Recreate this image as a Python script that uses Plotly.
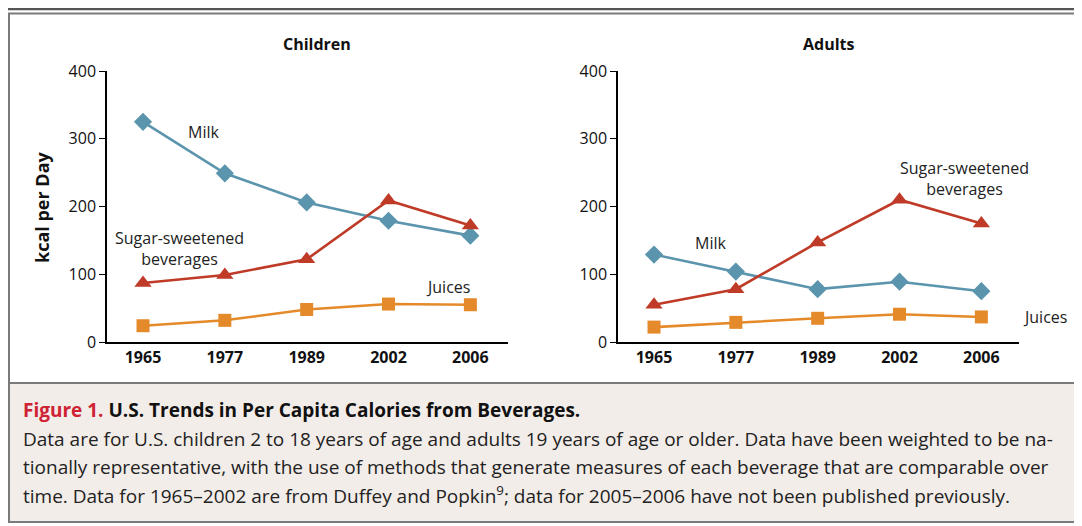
import plotly.graph_objects as go

years = ["1965", "1977", "1989", "2002", "2006"]
children_milk = [325, 249, 206, 179, 157]
children_ssb = [87, 99, 122, 209, 172]
children_juices = [24, 32, 48, 56, 55]
adults_milk = [129, 104, 78, 89, 75]
adults_ssb = [55, 78, 147, 210, 175]
adults_juices = [22, 29, 35, 41, 37]
y_ticks = [0, 100, 200, 300, 400]

W, H = 1082, 526
OFF = 8  # page body margin offset


def px(x):
    return (x - OFF) / W


def py(y):
    return 1 - (y - OFF) / H


MILK = "#5b94ad"
SSB = "#bf3a27"
JUICE = "#e58a2a"
FONT = "Open Sans"

fig = go.Figure()


def add_series(xa, ya, vals, color, symbol, size):
    fig.add_trace(go.Scatter(
        x=years, y=vals, mode="lines+markers", xaxis=xa, yaxis=ya,
        line=dict(color=color, width=2.6),
        marker=dict(color=color, symbol=symbol, size=size),
        showlegend=False, hoverinfo="skip"))


add_series("x", "y", children_milk, MILK, "diamond", 14)
add_series("x", "y", children_ssb, SSB, "triangle-up", 15)
add_series("x", "y", children_juices, JUICE, "square", 13)
add_series("x2", "y2", adults_milk, MILK, "diamond", 14)
add_series("x2", "y2", adults_ssb, SSB, "triangle-up", 15)
add_series("x2", "y2", adults_juices, JUICE, "square", 13)

ydom = [py(342), py(71)]
xcommon = dict(type="category", range=[-0.44, 4.46], showline=True, linecolor="black",
               linewidth=1.5, ticks="", showgrid=False, zeroline=False, automargin=False,
               tickfont=dict(family=FONT, size=16, color="#111", weight="bold"))
ycommon = dict(range=[0, 400], tickvals=y_ticks, showline=True, linecolor="black",
               linewidth=1.5, ticks="outside", ticklen=6, tickcolor="black", tickwidth=1.2,
               showgrid=False, zeroline=False, automargin=False,
               tickfont=dict(family=FONT, size=16, color="#111"), domain=ydom)

fig.update_layout(
    width=W, height=H, margin=dict(l=0, r=0, t=0, b=0, pad=0, autoexpand=False),
    paper_bgcolor="white", plot_bgcolor="rgba(0,0,0,0)",
    xaxis=dict(domain=[px(107), px(508)], anchor="y", **xcommon),
    yaxis=dict(anchor="x", **ycommon),
    xaxis2=dict(domain=[px(618), px(1019)], anchor="y2", **xcommon),
    yaxis2=dict(anchor="x2", **ycommon),
)

shapes = [
    dict(type="rect", xref="paper", yref="paper", x0=px(8.5), x1=1.0, y0=py(522), y1=py(383),
         fillcolor="#f3ede9", line=dict(width=0), layer="below"),
    dict(type="line", xref="paper", yref="paper", x0=px(8), x1=1.0, y0=py(9.2), y1=py(9.2),
         line=dict(color="#555555", width=2.2)),
    dict(type="line", xref="paper", yref="paper", x0=px(8), x1=1.0, y0=py(13.5), y1=py(13.5),
         line=dict(color="#7a7a7a", width=2)),
    dict(type="line", xref="paper", yref="paper", x0=px(9), x1=px(9), y0=py(13), y1=py(522),
         line=dict(color="#7a7a7a", width=2)),
    dict(type="line", xref="paper", yref="paper", x0=px(8), x1=1.0, y0=py(383), y1=py(383),
         line=dict(color="#7a7a7a", width=2)),
    dict(type="line", xref="paper", yref="paper", x0=px(8), x1=1.0, y0=py(522), y1=py(522),
         line=dict(color="#7a7a7a", width=2)),
]
fig.update_layout(shapes=shapes)


def ann(x, y, text, size=16, bold=False, color="#222", xanchor="center", align="center"):
    return dict(x=px(x), y=py(y), xref="paper", yref="paper", text=text, showarrow=False,
                xanchor=xanchor, yanchor="middle", align=align,
                font=dict(family=FONT, size=size, color=color, weight="bold" if bold else "normal"))


annotations = [
    ann(317, 44, "Children", size=16, bold=True, color="#111"),
    ann(829, 44, "Adults", size=16, bold=True, color="#111"),
    ann(203, 132, "Milk"),
    ann(179, 248, "Sugar-sweetened<br>beverages"),
    ann(448, 287, "Juices"),
    ann(710, 243, "Milk"),
    ann(964, 178, "Sugar-sweetened<br>beverages"),
    ann(1045, 317, "Juices"),
    dict(x=px(42), y=py(207), xref="paper", yref="paper", text="kcal per Day", showarrow=False,
         textangle=-90, xanchor="center", yanchor="middle",
         font=dict(family=FONT, size=18, color="#111", weight="bold")),
    ann(21, 410, "<span style='color:#cf2233'>Figure 1.</span> U.S. Trends in Per Capita Calories from Beverages.",
        size=19, bold=True, color="#111", xanchor="left", align="left"),
    ann(21, 439, "Data are for U.S. children 2 to 18 years of age and adults 19 years of age or older. Data have been weighted to be na-",
        size=19, xanchor="left", align="left"),
    ann(21, 467, "tionally representative, with the use of methods that generate measures of each beverage that are comparable over",
        size=19, xanchor="left", align="left"),
    ann(21, 495, "time. Data for 1965\u20132002 are from Duffey and Popkin<sup>9</sup>; data for 2005\u20132006 have not been published previously.",
        size=19, xanchor="left", align="left"),
]
fig.update_layout(annotations=annotations)

fig.write_html("out.html")
